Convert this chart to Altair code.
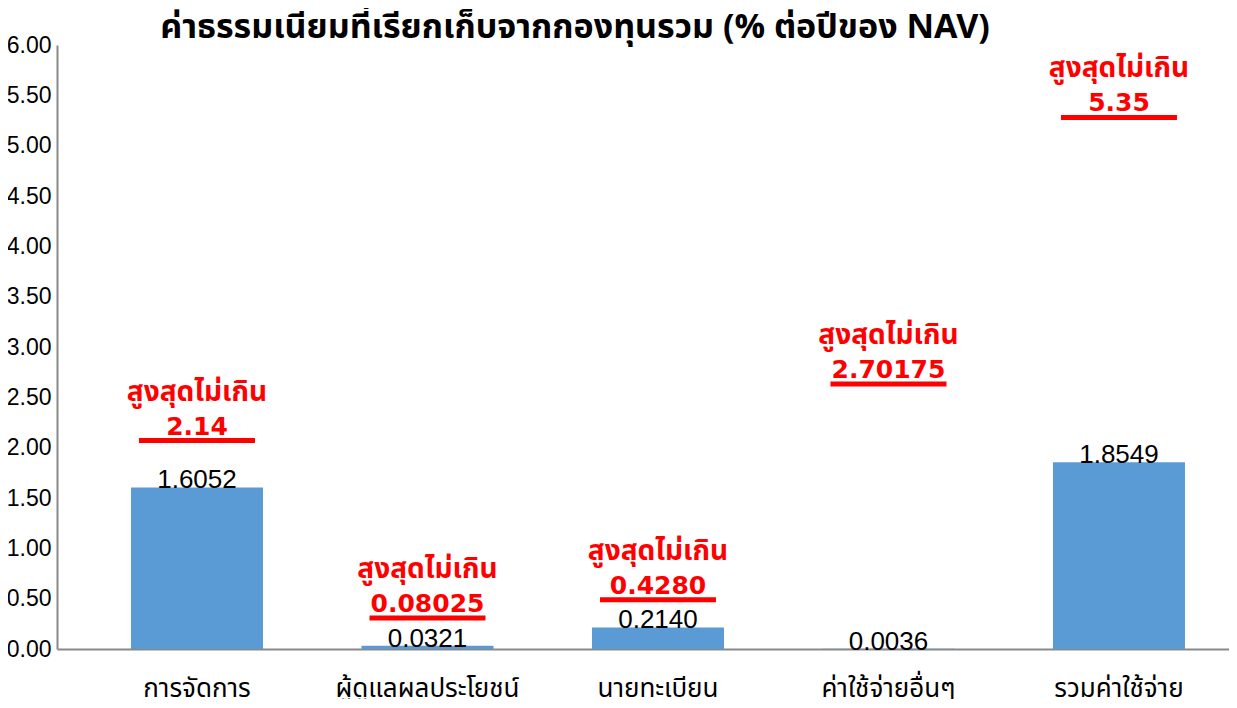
import altair as alt
import pandas as pd

categories = ["การจัดการ", "ผู้ดูแลผลประโยชน์", "นายทะเบียน", "ค่าใช้จ่ายอื่นๆ", "รวมค่าใช้จ่าย"]
values = [1.6052, 0.0321, 0.2140, 0.0036, 1.8549]
value_labels = ["1.6052", "0.0321", "0.2140", "0.0036", "1.8549"]
limits = [2.14, 0.08025, 0.4280, 2.70175, 5.35]
limit_labels = ["2.14", "0.08025", "0.4280", "2.70175", "5.35"]
limit_caption = "สูงสุดไม่เกิน"
title_text = "ค่าธรรมเนียมที่เรียกเก็บจากกองทุนรวม (% ต่อปีของ NAV)"
y_ticks = [i * 0.5 for i in range(13)]

df = pd.DataFrame({
    "cat": categories,
    "value": values,
    "vlabel": value_labels,
    "limit": limits,
    "llabel": limit_labels,
    "caption": [limit_caption] * len(categories),
})

FONT = "Tahoma, Noto Sans Thai, Noto Sans, DejaVu Sans, sans-serif"
NUMFONT = "Liberation Sans, Arial, sans-serif"
BOLDNUM = "DejaVu Sans, sans-serif"
RED = "#FF0000"

x = alt.X("cat:N", sort=categories, title=None,
          scale=alt.Scale(paddingInner=0.4273, paddingOuter=0.256, align=0.627),
          axis=alt.Axis(labelAngle=0, labelFontSize=26, labelColor="#000000", labelFont=FONT,
                        ticks=False, domainColor="#898989", domainWidth=2, labelLimit=400,
                        labelBaseline="alphabetic", labelPadding=47))
y = alt.Y("value:Q", title=None,
          scale=alt.Scale(domain=[0, 6], nice=False),
          axis=alt.Axis(values=y_ticks, format=".2f", grid=False, ticks=False,
                        labelFontSize=23, labelColor="#000000", labelFont=NUMFONT,
                        domainColor="#898989", domainWidth=2, labelPadding=6))

base = alt.Chart(df)

bars = base.mark_bar(color="#5B9BD5").encode(x=x, y=y)

bar_text = base.mark_text(fontSize=26, font=NUMFONT, color="#000000", baseline="alphabetic", dy=1).encode(
    x=alt.X("cat:N", sort=categories), y="value:Q", text="vlabel:N")

ann = base.transform_calculate(anchor="max(datum.limit, datum.value + 0.345)")

underline = ann.mark_tick(color=RED, opacity=1, thickness=5, size=116, orient="horizontal", yOffset=7).encode(
    x=alt.X("cat:N", sort=categories), y="anchor:Q")

limit_text = ann.mark_text(fontSize=25, font=BOLDNUM, fontWeight="bold", color=RED,
                           baseline="alphabetic", dy=1).encode(
    x=alt.X("cat:N", sort=categories), y="anchor:Q", text="llabel:N")

caption_text = ann.mark_text(fontSize=28, font=FONT, fontWeight="bold", color=RED,
                             baseline="alphabetic", dy=-33).encode(
    x=alt.X("cat:N", sort=categories), y="anchor:Q", text="caption:N")

chart = alt.layer(bars, bar_text, underline, limit_text, caption_text).properties(
    width=1172, height=604,
    autosize=alt.AutoSizeParams(type="none"),
    padding={"left": 49, "top": 37, "right": 0, "bottom": 50},
    title=alt.TitleParams(title_text, fontSize=34, font=FONT, fontWeight="bold", color="#000000",
                          anchor="middle", dx=-68, dy=21, offset=10),
).configure_view(stroke=None)

chart.save("out.html", embed_options={"renderer": "svg", "actions": False})
